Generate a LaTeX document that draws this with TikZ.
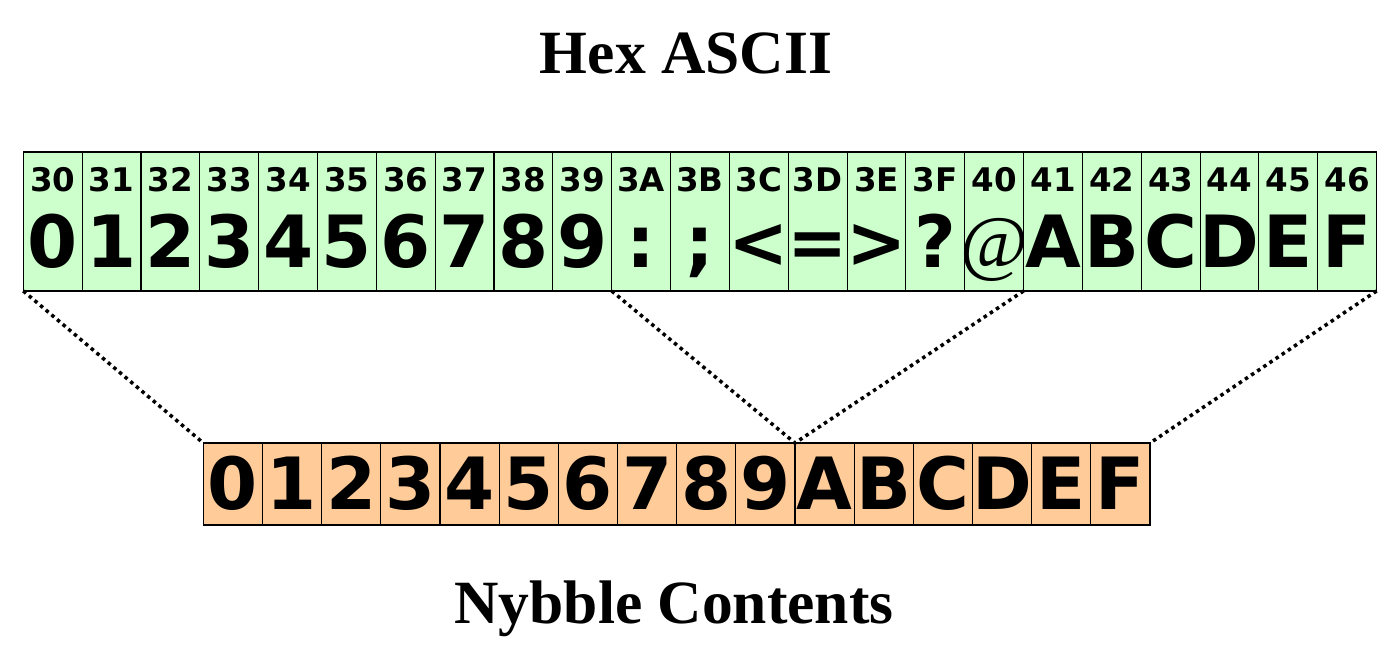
\documentclass[tikz,border=0pt]{standalone}
\usepackage{fontspec}
\setmainfont{Liberation Serif}
\newfontfamily\cellfont{DejaVu Sans}
\usetikzlibrary{positioning}
\definecolor{asciiGreen}{HTML}{CCFFCC}
\definecolor{nybOrange}{HTML}{FFCC99}
\newcommand{\atsign}{{\rmfamily\mdseries\fontsize{42}{42}\selectfont @}}
\tikzset{
    % Cells
    hexcell/.style={rectangle, draw=black, line width=0.6pt, fill=asciiGreen,
                    minimum width=1.1768cm, minimum height=2.78cm, inner sep=0pt, outer sep=0pt},
    nybcell/.style={hexcell, fill=nybOrange, minimum width=1.1834cm, minimum height=1.64cm},
    % Text
    code/.style={font=\cellfont\bfseries\fontsize{18.5}{18.5}\selectfont, anchor=base, inner sep=0pt},
    glyph/.style={font=\cellfont\bfseries\fontsize{41}{41}\selectfont, anchor=base, inner sep=0pt},
    heading/.style={font=\bfseries\fontsize{35}{35}\selectfont, anchor=base, inner sep=0pt},
    % Connectors
    spread/.style={line width=2pt, dash pattern=on 2pt off 2.2pt}
}

\begin{document}
\begin{tikzpicture}[x=0.02cm, y=-0.02cm]
\useasboundingbox (0,0) rectangle (1400,663);

\node[heading] (title) at (686,73) {Hex ASCII};

% ASCII row
\foreach \h/\c [count=\i from 0] in {30/0,31/1,32/2,33/3,34/4,35/5,36/6,37/7,38/8,39/9,
    3A/{:},3B/{;},3C/{<},3D/{=},3E/{>},3F/{?},40/{\atsign},41/A,42/B,43/C,44/D,45/E,46/F} {
  \node[hexcell, anchor=north west] (hex\i) at ({23.3+58.84*\i},152) {};
  \node[code] (hexcode\i) at ([yshift=1.98cm]hex\i.south) {\h};
  \node[glyph] (hexchar\i) at ([yshift=0.46cm]hex\i.south) {\c};
}

% nybble row
\foreach \c [count=\i from 0] in {0,1,2,3,4,5,6,7,8,9,A,B,C,D,E,F} {
  \node[nybcell, anchor=north west] (nyb\i) at ({203.3+59.17*\i},443) {};
  \node[glyph] (nybchar\i) at ([yshift=0.3cm]nyb\i.south) {\c};
}

\draw[spread] (hex0.south west) -- (nyb0.north west);
\draw[spread] (hex9.south east) -- (nyb9.north east);
\draw[spread] (hex16.south east) -- (nyb9.north east);
\draw[spread] (hex22.south east) -- (nyb15.north east);

\node[heading] (caption) at (674,623) {Nybble Contents};

\end{tikzpicture}
\end{document}
